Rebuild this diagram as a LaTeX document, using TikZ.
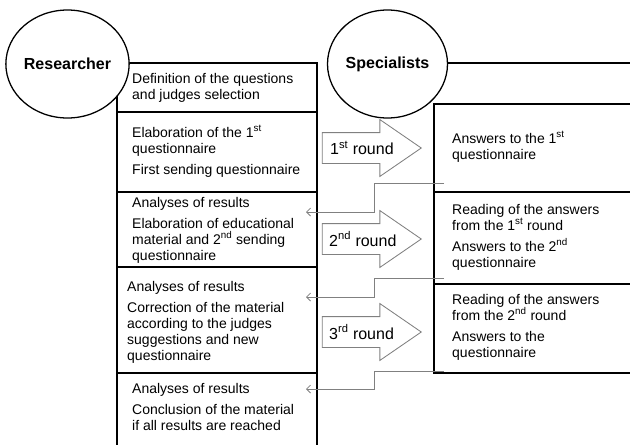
\documentclass[tikz,border=0pt]{standalone}
\usepackage{fontspec}
\setmainfont{Liberation Sans}
\usetikzlibrary{positioning, arrows.meta, shapes.geometric, shapes.arrows}

\begin{document}
\begin{tikzpicture}
    [
        x=1pt, y=-1pt,
        actor_node/.style={ellipse, draw=black, fill=white, line width=0.45mm, minimum width=120pt, minimum height=108pt, inner sep=0pt, font=\fontsize{16}{18}\selectfont\bfseries},
        task_text/.style={anchor=base west, align=left, inner sep=0pt, font=\fontsize{14}{16}\selectfont},
        round_arrow/.style={single arrow, draw=gray, line width=0.3mm, inner xsep=0pt, inner ysep=15pt, minimum height=99pt, single arrow head extend=13pt, single arrow tip angle=69, anchor=tip},
        round_text/.style={anchor=west, inner sep=0pt, font=\fontsize{16}{18}\selectfont},
        frame_line/.style={line width=0.45mm, color=black},
        return_line/.style={-{Straight Barb[length=4pt, width=8pt]}, line width=0.25mm, color=gray},
    ]
        \useasboundingbox (0,0) rectangle (630,445);
        % researcher column
        \draw[frame_line] (117,445) -- (117,63) -- (317,63) -- (317,445);
        \draw[frame_line] (117,112) -- (317,112);
        \draw[frame_line] (117,192) -- (317,192);
        \draw[frame_line] (117,267) -- (317,267);
        \draw[frame_line] (117,373) -- (317,373);
        % specialists column
        \draw[frame_line] (387,63) -- (630,63);
        \draw[frame_line] (630,104) -- (434,104) -- (434,373) -- (630,373);
        \draw[frame_line] (434,192) -- (630,192);
        \draw[frame_line] (434,284) -- (630,284);
        % actors
        \node[actor_node] (researcher) at (67.5,64) {Researcher} ;
        \node[actor_node] (specialists) at (387.5,64) {Specialists} ;
        % researcher tasks (placed at the baseline of their last line)
        \node[task_text] (r1) at (132,99) {Definition of the questions\\and judges selection} ;
        \node[task_text] (r2) at (132,174) {Elaboration of the 1\textsuperscript{st}\\questionnaire\\[5pt]First sending questionnaire} ;
        \node[task_text] (r3) at (132,260) {Analyses of results\\[5pt]Elaboration of educational\\material and 2\textsuperscript{nd} sending\\questionnaire} ;
        \node[task_text] (r4) at (127,360) {Analyses of results\\[5pt]Correction of the material\\according to the judges\\suggestions and new\\questionnaire} ;
        \node[task_text] (r5) at (132,430) {Analyses of results\\[5pt]Conclusion of the material\\if all results are reached} ;
        % specialists tasks
        \node[task_text] (s1) at (452,159) {Answers to the 1\textsuperscript{st}\\questionnaire} ;
        \node[task_text] (s2) at (452,267) {Reading of the answers\\from the 1\textsuperscript{st} round\\[5pt]Answers to the 2\textsuperscript{nd}\\questionnaire} ;
        \node[task_text] (s3) at (452,357) {Reading of the answers\\from the 2\textsuperscript{nd} round\\[5pt]Answers to the\\questionnaire} ;
        % rounds
        \node[round_arrow] (round1) at (422,148) {} ;
        \node[round_arrow] (round2) at (422,239) {} ;
        \node[round_arrow] (round3) at (422,332) {} ;
        \node[round_text] (round1_label) at (330,148) {1\textsuperscript{st} round} ;
        \node[round_text] (round2_label) at (329,239) {2\textsuperscript{nd} round} ;
        \node[round_text] (round3_label) at (329,332) {3\textsuperscript{rd} round} ;
        % returns to the researcher
        \coordinate (ret1_start) at (444,183) ;
        \coordinate (ret1_end) at (306,212) ;
        \coordinate (ret2_start) at (444,278) ;
        \coordinate (ret2_end) at (306,297) ;
        \coordinate (ret3_start) at (444,371) ;
        \coordinate (ret3_end) at (306,389) ;
        \draw[return_line] (ret1_start) -- ++(-70,0) |- (ret1_end) ;
        \draw[return_line] (ret2_start) -- ++(-70,0) |- (ret2_end) ;
        \draw[return_line] (ret3_start) -- ++(-70,0) |- (ret3_end) ;
    \end{tikzpicture}
\end{document}
